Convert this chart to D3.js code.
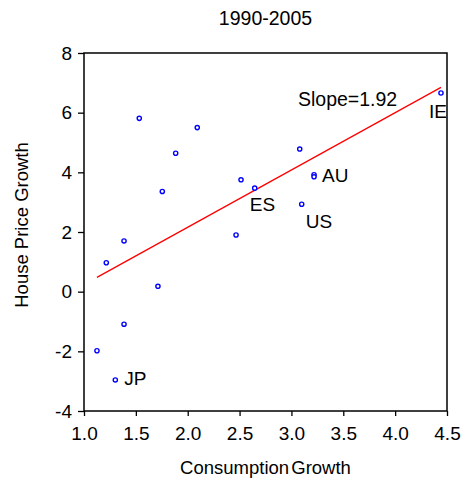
<!DOCTYPE html>
<html>
<head>
<meta charset="utf-8">
<script src="https://cdn.jsdelivr.net/npm/d3@7"></script>
<style>
  body { margin: 0; background: #fff; }
  text { font-family: "Liberation Sans", Arial, sans-serif; fill: #000; }
</style>
</head>
<body>
<div id="chart"></div>
<script>
// consumption growth (x) and house price growth (y), 1990-2005
var consumption = [1.533, 1.884, 2.092, 3.080, 4.442, 1.755, 2.514, 2.646, 3.218, 3.218, 3.099, 2.466, 1.386, 1.215, 1.713, 1.386, 1.125, 1.302];
var housePrice  = [5.81, 4.64, 5.50, 4.78, 6.66, 3.36, 3.75, 3.47, 3.92, 3.85, 2.93, 1.90, 1.70, 0.97, 0.18, -1.09, -1.98, -2.96];
var countries   = ["", "", "", "", "IE", "", "", "ES", "AU", "", "US", "", "", "", "", "", "", "JP"];

var xTicks = [1.0, 1.5, 2.0, 2.5, 3.0, 3.5, 4.0, 4.5];
var yTicks = [-4, -2, 0, 2, 4, 6, 8];

// fitted line
var slope = 1.92, intercept = -1.68;

var title = "1990-2005";
var xLabel = "Consumption Growth";
var yLabel = "House Price Growth";

// size of the page and plot box
var W = 463, H = 485;
var margin = {top: 53, right: 16, bottom: 74, left: 84};

var svg = d3.select("#chart").append("svg")
  .attr("width", W)
  .attr("height", H);

var x = d3.scaleLinear()
  .domain([1, 4.5])
  .range([margin.left, W - margin.right]);

var y = d3.scaleLinear()
  .domain([-4, 8])
  .range([H - margin.bottom, margin.top]);

// axes (plain hyphen for negatives, like the original)
var gx = svg.append("g")
  .attr("transform", "translate(0," + (H - margin.bottom) + ")")
  .call(d3.axisBottom(x).tickValues(xTicks).tickFormat(function(d) { return d.toFixed(1); }).tickSize(5).tickPadding(11));
var gy = svg.append("g")
  .attr("transform", "translate(" + margin.left + ",0)")
  .call(d3.axisLeft(y).tickValues(yTicks).tickFormat(function(d) { return String(d); }).tickSize(6).tickPadding(6));

[gx, gy].forEach(function(g) {
  g.select(".domain").remove();
  g.selectAll("line").attr("stroke", "#000").attr("stroke-width", 1.3);
  g.selectAll("text")
    .style("font-size", "19px")
    .style("font-family", "'Liberation Sans', Arial, sans-serif")
    .attr("fill", "#000");
});

// frame
svg.append("rect")
  .attr("x", x(1))
  .attr("y", y(8))
  .attr("width", x(4.5) - x(1))
  .attr("height", y(-4) - y(8))
  .attr("fill", "none")
  .attr("stroke", "#000")
  .attr("stroke-width", 1.5);

// regression line across the data range
var xr = d3.extent(consumption);
svg.append("line")
  .attr("x1", x(xr[0]))
  .attr("y1", y(intercept + slope * xr[0]))
  .attr("x2", x(xr[1]))
  .attr("y2", y(intercept + slope * xr[1]))
  .attr("stroke", "#ff0000")
  .attr("stroke-width", 1.3);

// points
var pts = consumption.map(function(c, i) {
  return {x: c, y: housePrice[i], name: countries[i]};
});

svg.selectAll("circle.pt")
  .data(pts)
  .enter()
  .append("circle")
    .attr("class", "pt")
    .attr("cx", function(d) { return x(d.x); })
    .attr("cy", function(d) { return y(d.y); })
    .attr("r", 2.1)
    .attr("fill", "#fff")
    .attr("stroke", "#0000ff")
    .attr("stroke-width", 1.4);

// label offsets from their point (pixels)
var labelOffset = {
  IE: [-12, 25],
  ES: [-5, 23],
  AU: [8, 7],
  US: [4, 24],
  JP: [9, 5]
};

svg.selectAll("text.lab")
  .data(pts.filter(function(d) { return d.name; }))
  .enter()
  .append("text")
    .attr("class", "lab")
    .attr("x", function(d) { return x(d.x) + labelOffset[d.name][0]; })
    .attr("y", function(d) { return y(d.y) + labelOffset[d.name][1]; })
    .style("font-size", "19px")
    .text(function(d) { return d.name; });

svg.append("text")
  .attr("x", 298)
  .attr("y", 106)
  .style("font-size", "19.5px")
  .text("Slope=" + slope.toFixed(2));

// titles
svg.append("text")
  .attr("x", (x(1) + x(4.5)) / 2)
  .attr("y", 25)
  .attr("text-anchor", "middle")
  .style("font-size", "19.5px")
  .text(title);

svg.append("text")
  .attr("x", (x(1) + x(4.5)) / 2)
  .attr("y", 474)
  .attr("text-anchor", "middle")
  .style("font-size", "18.5px")
  .style("word-spacing", "-3px")
  .text(xLabel);

svg.append("text")
  .attr("transform", "translate(28,225) rotate(-90)")
  .attr("text-anchor", "middle")
  .style("font-size", "18.5px")
  .text(yLabel);
</script>
</body>
</html>
